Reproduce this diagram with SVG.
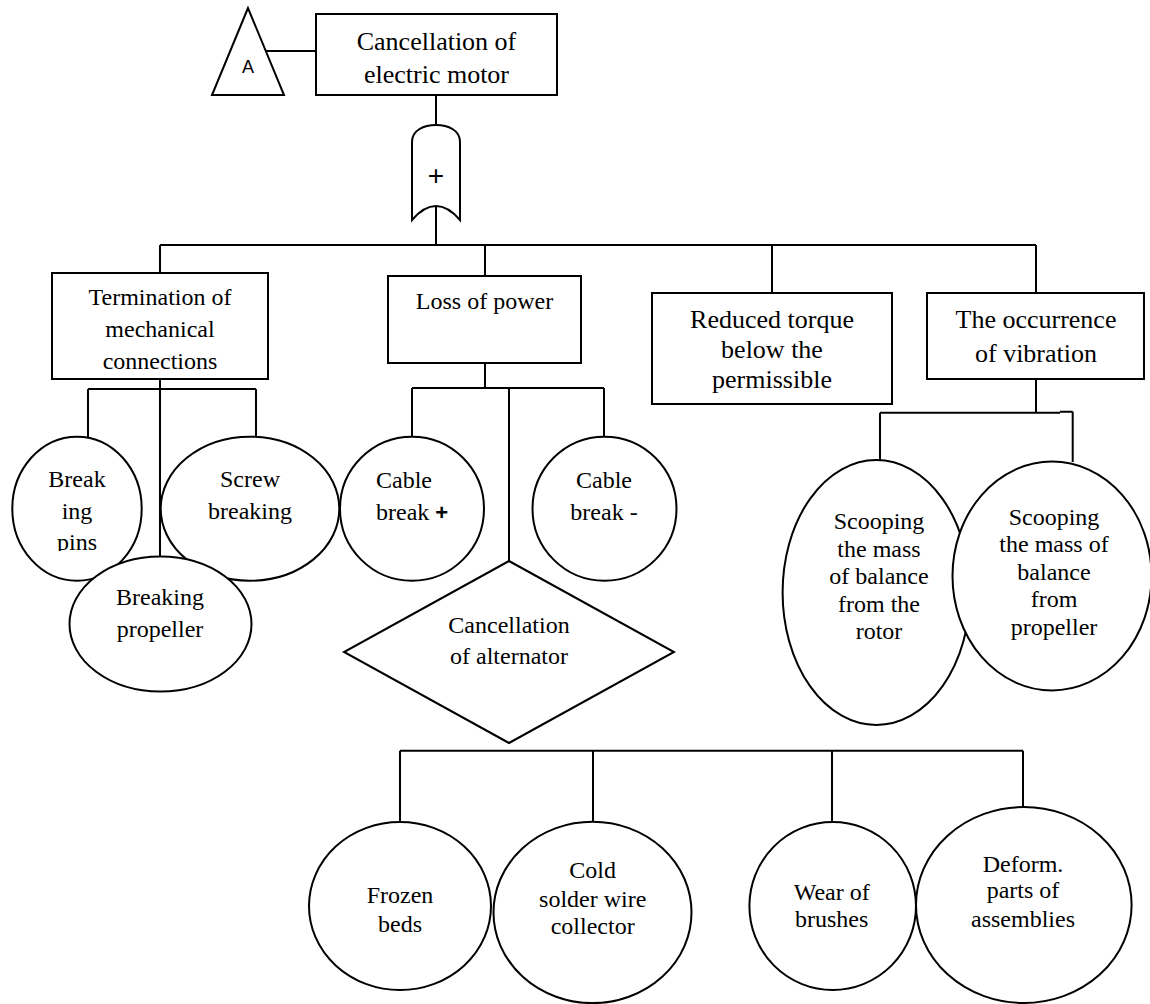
<svg xmlns="http://www.w3.org/2000/svg" width="1150" height="1004" viewBox="0 0 1150 1004">
<style>
.n{fill:#fff;stroke:#000;stroke-width:2}
.c{fill:none;stroke:#000;stroke-width:2}
.t{font-family:"Liberation Serif","Times New Roman",serif;font-size:24px;text-anchor:middle;fill:#000}
.b{font-size:26px}
.l{text-anchor:start}
.s{font-family:"Liberation Sans",Arial,sans-serif;text-anchor:middle;fill:#000}
</style>
<defs>
<clipPath id="pinsClip"><rect x="0" y="430" width="150" height="121"/></clipPath>
</defs>
<rect width="1150" height="1004" fill="#fff"/>
<g id="connectors" class="c">
<path d="M266,51 H316"/>
<path d="M436,95 V125"/>
<path d="M436,206 V245"/>
<path d="M160,245 H1036"/>
<path d="M160,245 V273 M485,245 V276 M772,245 V293 M1036,245 V293"/>
<path d="M160,379 V557 M88,389 H256 M88,389 V437 M256,389 V437"/>
<path d="M485,363 V388 M412,388 H604 M412,388 V437 M604,388 V437 M509,388 V561"/>
<path d="M1036,379 V412.7 M880,412.7 H1060 M1060,411.7 H1072.7 M880,412.7 V461 M1072.7,411.7 V462"/>
<path d="M400,750.7 H1023 M400,750.7 V822 M593,750.7 V822 M832,750.7 V822 M1023,750.7 V807"/>
</g>
<g id="transfer-A">
<polygon class="n" points="248,8 212,95 284,95"/>
<text class="s" x="248" y="73" font-size="18">A</text>
</g>
<g id="top-event">
<rect class="n" x="316" y="14" width="241" height="81"/>
<text class="t b" x="436.5" y="50">Cancellation of</text>
<text class="t b" x="436.5" y="83">electric motor</text>
</g>
<g id="or-gate">
<path class="n" d="M412,220 V142 C412,130 424,125 436,125 C448,125 460,130 460,142 V220 Q436,192 412,220 Z"/>
<text class="s" x="436" y="185" font-size="28">+</text>
</g>
<g id="termination">
<rect class="n" x="52" y="273" width="216" height="106"/>
<text class="t" x="160" y="305">Termination of</text>
<text class="t" x="160" y="337">mechanical</text>
<text class="t" x="160" y="369">connections</text>
</g>
<g id="loss-of-power">
<rect class="n" x="388" y="276" width="193" height="87"/>
<text class="t" x="484.5" y="309">Loss of power</text>
</g>
<g id="reduced-torque">
<rect class="n" x="652" y="293" width="240" height="111"/>
<text class="t b" x="772" y="328">Reduced torque</text>
<text class="t b" x="772" y="358">below the</text>
<text class="t b" x="772" y="388">permissible</text>
</g>
<g id="vibration">
<rect class="n" x="927" y="293" width="217" height="86"/>
<text class="t b" x="1036" y="328">The occurrence</text>
<text class="t b" x="1036" y="362">of vibration</text>
</g>
<g id="breaking-pins">
<ellipse class="n" cx="77" cy="508.7" rx="64.7" ry="72"/>
<g clip-path="url(#pinsClip)">
<text class="t" x="77" y="487">Break</text>
<text class="t" x="77" y="519">ing</text>
<text class="t" x="77" y="550">pins</text>
</g>
</g>
<g id="screw-breaking">
<ellipse class="n" cx="250" cy="508.7" rx="89.3" ry="72"/>
<text class="t" x="250" y="487">Screw</text>
<text class="t" x="250" y="519">breaking</text>
</g>
<g id="breaking-propeller">
<ellipse class="n" cx="160.5" cy="624" rx="91" ry="67.5"/>
<text class="t" x="160" y="605">Breaking</text>
<text class="t" x="160" y="637">propeller</text>
</g>
<g id="cable-break-plus">
<circle class="n" cx="412" cy="508.7" r="72"/>
<text class="t l" x="376" y="488">Cable</text>
<text class="t l" x="376" y="520">break <tspan style="font-family:'Liberation Sans',Arial,sans-serif;font-weight:bold;font-size:22px">+</tspan></text>
</g>
<g id="cable-break-minus">
<circle class="n" cx="604.5" cy="508.7" r="72"/>
<text class="t" x="604" y="488">Cable</text>
<text class="t" x="604" y="520">break -</text>
</g>
<g id="alternator">
<polygon class="n" points="509,561 674,652 509,743 344,652"/>
<text class="t" x="509" y="633">Cancellation</text>
<text class="t" x="509" y="664">of alternator</text>
</g>
<g id="scoop-rotor">
<ellipse class="n" cx="876.3" cy="592.5" rx="93.7" ry="132.5"/>
<text class="t" x="879" y="529">Scooping</text>
<text class="t" x="879" y="557">the mass</text>
<text class="t" x="879" y="584">of balance</text>
<text class="t" x="879" y="612">from the</text>
<text class="t" x="879" y="639">rotor</text>
</g>
<g id="scoop-propeller">
<ellipse class="n" cx="1052" cy="576" rx="99.5" ry="114.5"/>
<text class="t" x="1054" y="525">Scooping</text>
<text class="t" x="1054" y="552">the mass of</text>
<text class="t" x="1054" y="580">balance</text>
<text class="t" x="1054" y="607">from</text>
<text class="t" x="1054" y="635">propeller</text>
</g>
<g id="frozen-beds">
<ellipse class="n" cx="400" cy="906" rx="91" ry="84"/>
<text class="t" x="400" y="903">Frozen</text>
<text class="t" x="400" y="932">beds</text>
</g>
<g id="cold-solder">
<ellipse class="n" cx="592.5" cy="912.4" rx="99" ry="90.7"/>
<text class="t" x="592.7" y="878">Cold</text>
<text class="t" x="592.7" y="907">solder wire</text>
<text class="t" x="592.7" y="934">collector</text>
</g>
<g id="wear-brushes">
<ellipse class="n" cx="832.7" cy="906" rx="83.3" ry="84"/>
<text class="t" x="831.7" y="900">Wear of</text>
<text class="t" x="831.7" y="927">brushes</text>
</g>
<g id="deform-parts">
<ellipse class="n" cx="1023.8" cy="905" rx="107.8" ry="98"/>
<text class="t" x="1023" y="872">Deform.</text>
<text class="t" x="1023" y="898">parts of</text>
<text class="t" x="1023" y="927">assemblies</text>
</g>
</svg>
